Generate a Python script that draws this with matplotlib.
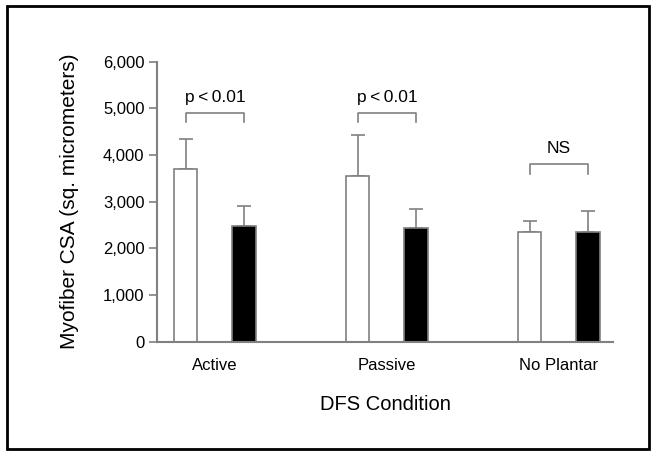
import matplotlib.pyplot as plt
from matplotlib.patches import Rectangle
from matplotlib.ticker import FuncFormatter

plt.rcParams['font.family'] = ['Liberation Sans', 'DejaVu Sans']

conditions = ["Active", "Passive", "No Plantar"]
white_means = [3710, 3550, 2350]
white_errs = [640, 880, 240]
black_means = [2490, 2440, 2350]
black_errs = [420, 410, 450]
sig_labels = ["p\u2009<\u20090.01", "p\u2009<\u20090.01", "NS"]
bracket_tops = [4900, 4900, 3800]

GRAY = "#808080"


def main():
    fig = plt.figure(figsize=(6.56, 4.53), dpi=100)
    ax = fig.add_axes([0.2393, 0.2457, 0.695, 0.618])

    x = list(range(len(conditions)))
    off = 0.169
    w = 0.135
    xw = [i - off for i in x]
    xb = [i + off for i in x]
    ax.bar(xw, white_means, w, color="white", edgecolor=GRAY, linewidth=1.2, zorder=2)
    ax.bar(xb, black_means, w, color="black", edgecolor=GRAY, linewidth=1.2, zorder=2)
    ax.errorbar(xw, white_means, yerr=[[0] * 3, white_errs], fmt="none",
                ecolor=GRAY, elinewidth=1.2, capsize=5, capthick=1.2, zorder=1)
    ax.errorbar(xb, black_means, yerr=[[0] * 3, black_errs], fmt="none",
                ecolor=GRAY, elinewidth=1.2, capsize=5, capthick=1.2, zorder=1)

    for i, lab in enumerate(sig_labels):
        top = bracket_tops[i]
        ax.plot([xw[i], xw[i], xb[i], xb[i]], [top - 200, top, top, top - 200],
                color=GRAY, lw=1.2, clip_on=False)
        ax.text(x[i], top + 170, lab, ha="center", va="bottom", fontsize=12.5)

    ax.set_xlim(-0.337, 2.314)
    ax.set_ylim(0, 6000)
    ax.set_xticks(x)
    ax.set_xticklabels(conditions, fontsize=12)
    ax.set_yticks(range(0, 6001, 1000))
    ax.yaxis.set_major_formatter(FuncFormatter(lambda v, p: f"{int(v):,}"))
    ax.tick_params(axis="y", labelsize=12, length=6, color=GRAY, width=1.2, pad=3)
    ax.tick_params(axis="x", length=0, pad=12)
    for s in ["top", "right"]:
        ax.spines[s].set_visible(False)
    for s in ["left", "bottom"]:
        ax.spines[s].set_color(GRAY)
        ax.spines[s].set_linewidth(1.5)

    ax.set_xlabel("DFS Condition", fontsize=14.5)
    ax.set_ylabel("Myofiber CSA (sq. micrometers)", fontsize=15)
    ax.xaxis.set_label_coords(0.5, -0.19)
    ax.yaxis.set_label_coords(-0.172, 0.5)

    fig.patches.append(Rectangle((0.011, 0.009), 0.979, 0.977, transform=fig.transFigure,
                                 fill=False, edgecolor="black", linewidth=2))
    fig.savefig("out.png", dpi=100)


if __name__ == '__main__':
    main()
